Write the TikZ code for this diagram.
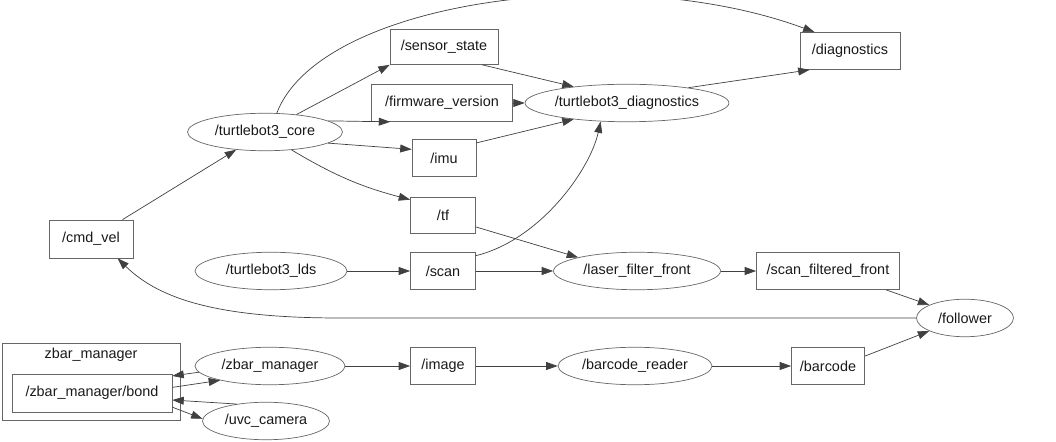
\documentclass[tikz,border=0pt]{standalone}
\usepackage{fontspec}
\setmainfont{Liberation Sans}
\usepackage{tikz}
\usetikzlibrary{arrows.meta,shapes.geometric}

\begin{document}
\begin{tikzpicture}[x=0.02cm, y=-0.02cm,
    every node/.style={font=\fontsize{8.2}{10}\selectfont, text=black!90},
    topic/.style={rectangle, draw=black!60, inner sep=0pt, minimum height=0.74cm},
    rosnode/.style={ellipse, draw=black!60, inner sep=0pt, minimum height=0.75cm},
    arr/.style={draw=black!75, -{Triangle[length=6.5pt,width=4.5pt]}}]
  \useasboundingbox (0,0) rectangle (1056,442);

  % topics and nodes
  \node[rosnode, minimum width=3.1cm] (core) at (265,132) {/turtlebot3\_core};
  \node[topic, minimum width=2.16cm, minimum height=0.7cm] (sensor) at (444,47) {/sensor\_state};
  \node[topic, minimum width=2.82cm] (firmware) at (442,103) {/firmware\_version};
  \node[topic, minimum width=1.28cm] (imu) at (444,158) {/imu};
  \node[topic, minimum width=1.3cm, minimum height=0.72cm] (tf) at (443,215) {/tf};
  \node[rosnode, minimum width=3.8cm] (tbdiag) at (627,103) {/turtlebot3\_diagnostics};
  \node[topic, minimum width=2.0cm] (diag) at (850,51) {/diagnostics};
  \node[topic, minimum width=1.68cm, minimum height=0.76cm] (cmdvel) at (91,239) {/cmd\_vel};
  \node[rosnode, minimum width=3.04cm] (lds) at (271,271) {/turtlebot3\_lds};
  \node[topic, minimum width=1.3cm] (scan) at (443,271) {/scan};
  \node[rosnode, minimum width=3.34cm] (laser) at (637,271) {/laser\_filter\_front};
  \node[topic, minimum width=2.86cm] (sfront) at (828,271) {/scan\_filtered\_front};
  \node[rosnode, minimum width=1.94cm] (follower) at (965,318) {/follower};

  % zbar cluster
  \node[rectangle, draw=black!60, inner sep=0pt, minimum width=3.56cm, minimum height=1.54cm] (cluster) at (91,381.5) {};
  \node (clustertitle) at (91,355) {zbar\_manager};
  \node[topic, minimum width=3.2cm, minimum height=0.76cm] (bond) at (92,393) {/zbar\_manager/bond};
  \node[rosnode, minimum width=3.0cm] (zbar) at (270,366) {/zbar\_manager};
  \node[rosnode, minimum width=2.54cm] (uvc) at (266,421) {/uvc\_camera};
  \node[topic, minimum width=1.3cm] (image) at (443,366) {/image};
  \node[rosnode, minimum width=3.08cm] (reader) at (635,366) {/barcode\_reader};
  \node[topic, minimum width=1.46cm] (barcode) at (828,366) {/barcode};

  % connections
  \draw[arr] (cmdvel) -- (core);
  \draw[arr] (core.29) -- (sensor.south west);
  \draw[arr] (core.10) -- (firmware.200);
  \draw[arr] (core.-10) -- (imu.165);
  \draw[arr] (core.-34) to[bend right=8] (tf.155);
  \draw[arr] (core.58) .. controls (320,0) and (620,-40) .. (diag.152);
  \draw[arr] (sensor.-25) -- (tbdiag.163);
  \draw[arr] (firmware) -- (tbdiag);
  \draw[arr] (imu.25) -- (tbdiag.-163);
  \draw[arr] (scan.25) .. controls (540,240) and (590,170) .. (tbdiag.-145);
  \draw[arr] (tbdiag.14) -- (diag.-155);
  \draw[arr] (tf.-20) -- (laser.167);
  \draw[arr] (lds) -- (scan);
  \draw[arr] (scan) -- (laser);
  \draw[arr] (laser) -- (sfront);
  \draw[arr] (sfront.-18) -- (follower.160);
  \draw[arr] (follower.west) -- (340,318) .. controls (220,318) and (160,300) .. (cmdvel.-36);
  \draw[arr] (barcode.15) -- (follower.-160);
  \draw[arr] (zbar) -- (image);
  \draw[arr] (image) -- (reader);
  \draw[arr] (reader) -- (barcode);
  \draw[arr] (zbar.185) -- (bond.12);
  \draw[arr] (bond.4) -- (zbar.196);
  \draw[arr] (uvc.150) -- (bond.-5);
  \draw[arr] (bond.-10) -- (uvc.178);
\end{tikzpicture}
\end{document}
